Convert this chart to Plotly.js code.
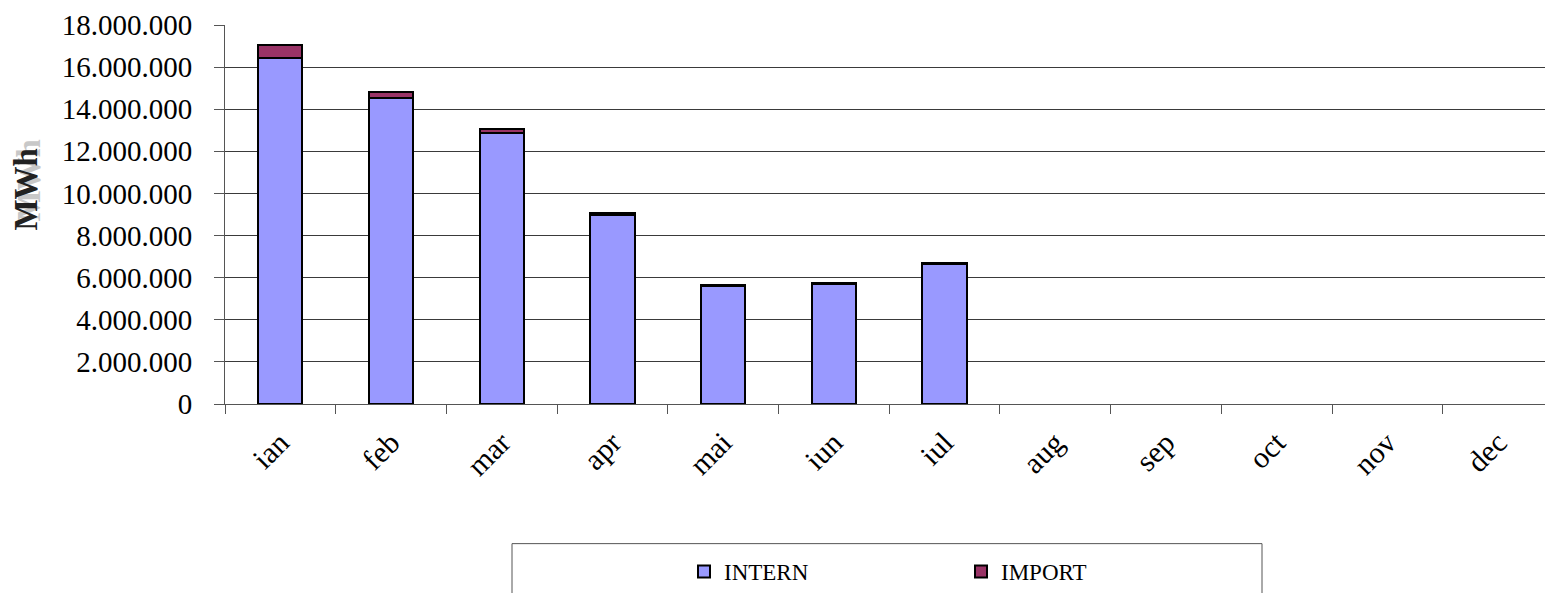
<!DOCTYPE html>
<html>
<head>
<meta charset="utf-8">
<script src="https://cdn.plot.ly/plotly-3.0.1.min.js"></script>
<style>
html,body{margin:0;padding:0;overflow:hidden;background:#fff;}
#chart{width:1545px;height:593px;}
</style>
</head>
<body>
<div id="chart"></div>
<script>
const months = ['ian','feb','mar','apr','mai','iun','iul','aug','sep','oct','nov','dec'];
const internValues = [16420000, 14520000, 12870000, 9000000, 5610000, 5690000, 6670000, null, null, null, null, null];
const importValues = [640000, 310000, 190000, 50000, 40000, 40000, 40000, null, null, null, null, null];
const yTickValues = [0, 2000000, 4000000, 6000000, 8000000, 10000000, 12000000, 14000000, 16000000, 18000000];

const serif = 'Liberation Serif, Times New Roman, serif';
const plotLeft = 225, plotRight = 1545, plotTop = 25, plotBottom = 405;
const plotW = plotRight - plotLeft, plotH = plotBottom - plotTop;
const px = x => (x - plotLeft) / plotW;
const py = y => (plotBottom - y) / plotH;

const traces = [
  {type:'bar', name:'INTERN', x:months, y:internValues,
   marker:{color:'#9999ff', line:{color:'#000', width:2}}},
  {type:'bar', name:'IMPORT', x:months, y:importValues,
   marker:{color:'#993366', line:{color:'#000', width:2}}}
];

const layout = {
  width:1545, height:593,
  margin:{l:plotLeft, r:0, t:plotTop, b:593-plotBottom, pad:0},
  paper_bgcolor:'#fff', plot_bgcolor:'#fff',
  font:{family:serif, color:'#000', size:20},
  separators:',.',
  barmode:'stack', bargap:0.6,
  showlegend:true,
  xaxis:{
    type:'category', categoryorder:'array', categoryarray:months,
    range:[-0.5, -0.5 + plotW/110.7],
    tickangle:-45, tickfont:{family:serif, size:30, color:'#000'},
    ticks:'outside', tickson:'boundaries', ticklen:9, tickcolor:'#555', tickwidth:1,
    ticklabelstandoff:8,
    showline:true, linecolor:'#555', linewidth:1,
    showgrid:false, zeroline:false, fixedrange:true
  },
  yaxis:{
    range:[0, 18000000], tickvals:yTickValues, tickformat:',d',
    tickfont:{family:serif, size:29, color:'#000'},
    ticks:'outside', ticklen:10, tickcolor:'#555', tickwidth:1,
    ticklabelstandoff:16,
    showline:true, linecolor:'#555', linewidth:1,
    showgrid:true, gridcolor:'#3a3a3a', gridwidth:1,
    zeroline:false, fixedrange:true
  },
  legend:{
    orientation:'h', xref:'paper', yref:'paper',
    x:px(684), xanchor:'left', y:py(573), yanchor:'middle',
    entrywidth:232, entrywidthmode:'pixels',
    font:{family:serif, size:23, color:'#000'},
    bgcolor:'rgba(0,0,0,0)', borderwidth:0, traceorder:'normal'
  },
  shapes:[
    {type:'rect', xref:'paper', yref:'paper', x0:px(512), x1:px(1262), y0:py(545), y1:py(610),
     line:{color:'#555', width:1}, fillcolor:'rgba(0,0,0,0)', layer:'above'}
  ],
  annotations:[
    {text:'MWh', xref:'paper', yref:'paper', x:px(29), y:py(180), textangle:-90,
     showarrow:false, xanchor:'center', yanchor:'middle',
     font:{family:serif, size:33, color:'#c8c8c8', weight:'bold'}},
    {text:'MWh', xref:'paper', yref:'paper', x:px(26), y:py(190), textangle:-90,
     showarrow:false, xanchor:'center', yanchor:'middle',
     font:{family:serif, size:33, color:'#222', weight:'bold'}}
  ]
};

Plotly.newPlot('chart', traces, layout, {displayModeBar:false, staticPlot:true});
</script>
</body>
</html>
